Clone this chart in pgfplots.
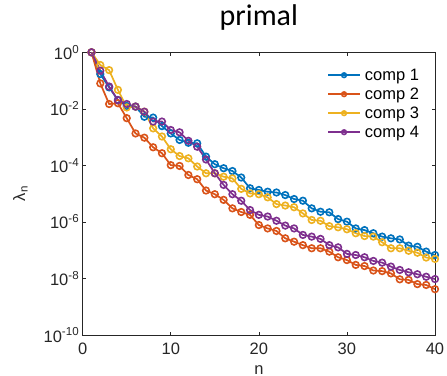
\documentclass[border=0pt]{standalone}
\usepackage{fontspec}
\setmainfont{Liberation Sans}
\newfontfamily\titlefont{Carlito}
\usepackage{pgfplots}
\pgfplotsset{compat=1.18}
\definecolor{c1}{rgb}{0,0.447,0.741}
\definecolor{c2}{rgb}{0.85,0.325,0.098}
\definecolor{c3}{rgb}{0.929,0.694,0.125}
\definecolor{c4}{rgb}{0.494,0.184,0.556}
\definecolor{axgray}{rgb}{0.15,0.15,0.15}
\begin{document}
\begin{tikzpicture}
\begin{axis}[
  name=ax,
  scale only axis,
  width=352.3bp, height=282.7bp,
  xmin=0, xmax=40, ymin=1e-10, ymax=1,
  ymode=log,
  xtick={0,10,20,30,40},
  ytick={1e-10,1e-8,1e-6,1e-4,1e-2,1},
  yticklabels={10\textsuperscript{-10},10\textsuperscript{-8},10\textsuperscript{-6},10\textsuperscript{-4},10\textsuperscript{-2},10\textsuperscript{0}},
  minor ytick={}, minor xtick={},
  tick align=inside,
  major tick length=3.5bp,
  axis line style={axgray, line width=0.6bp},
  every tick/.style={axgray, line width=0.6bp},
  tick label style={font=\fontsize{16.5bp}{19bp}\selectfont, text=axgray},
  /pgf/number format/assume math mode=true,
  xticklabel style={yshift=-4bp},
  xlabel={n},
  xlabel style={font=\fontsize{16.5bp}{19bp}\selectfont, text=axgray, at={(axis description cs:0.5,0)}, anchor=base, yshift=-39bp},
  ylabel={λ\textsubscript{n}},
  every axis y label/.style={font=\fontsize{16.5bp}{19bp}\selectfont, text=axgray, at={(axis description cs:-0.177,0.5)}, anchor=center, rotate=90},
  title={\titlefont primal},
  title style={font=\fontsize{30bp}{34bp}\selectfont, at={(axis description cs:0.5,1)}, anchor=base, yshift=21bp},
  legend cell align=left,
  legend style={draw=none, fill=none, at={(axis description cs:0,1)}, anchor=north west, xshift=244.3bp, yshift=-15.7bp, inner sep=0pt, row sep=5bp, column sep=4bp,
    nodes={inner sep=0pt, text height=12bp, text depth=2bp, font=\fontsize{16.5bp}{19bp}\selectfont, text=black}},
  legend image code/.code={\draw[mark repeat=2,mark phase=2,#1,mark size=2.3bp] plot coordinates {(0bp,0bp)(16bp,0bp)(32bp,0bp)};},
  every axis plot/.append style={line width=1.7bp, mark=o, mark size=3.3bp, mark options={line width=1.6bp}},
]
\addplot[c1] coordinates {
(1,1)(2,1.70e-1)(3,5.75e-2)(4,2.04e-2)(5,1.26e-2)(6,1.20e-2)(7,5.25e-3)(8,4.90e-3)(9,2.45e-3)(10,1.35e-3)
(11,7.94e-4)(12,6.31e-4)(13,6.03e-4)(14,2.04e-4)(15,1.10e-4)(16,7.94e-5)(17,6.31e-5)(18,3.72e-5)(19,1.55e-5)(20,1.35e-5)
(21,1.17e-5)(22,1.10e-5)(23,8.91e-6)(24,6.46e-6)(25,5.62e-6)(26,3.02e-6)(27,2.29e-6)(28,2.19e-6)(29,1.26e-6)(30,1.02e-6)
(31,5.89e-7)(32,5.13e-7)(33,3.98e-7)(34,3.02e-7)(35,2.63e-7)(36,2.40e-7)(37,1.45e-7)(38,1.32e-7)(39,8.91e-8)(40,6.76e-8)};
\addlegendentry{comp 1}
\addplot[c2] coordinates {
(1,1)(2,7.94e-2)(3,1.48e-2)(4,1.58e-2)(5,4.68e-3)(6,1.35e-3)(7,9.55e-4)(8,4.37e-4)(9,2.69e-4)(10,1.02e-4)
(11,9.55e-5)(12,4.57e-5)(13,3.24e-5)(14,1.29e-5)(15,9.55e-6)(16,6.03e-6)(17,3.02e-6)(18,2.24e-6)(19,1.78e-6)(20,7.76e-7)
(21,5.89e-7)(22,4.79e-7)(23,2.63e-7)(24,2.00e-7)(25,1.51e-7)(26,1.17e-7)(27,1.17e-7)(28,8.91e-8)(29,5.62e-8)(30,4.47e-8)
(31,3.02e-8)(32,2.75e-8)(33,1.91e-8)(34,1.82e-8)(35,1.51e-8)(36,9.33e-9)(37,8.91e-9)(38,6.31e-9)(39,5.89e-9)(40,4.17e-9)};
\addlegendentry{comp 2}
\addplot[c3] coordinates {
(1,1)(2,3.55e-1)(3,2.34e-1)(4,4.68e-2)(5,1.12e-2)(6,1.20e-2)(7,7.94e-3)(8,2.04e-3)(9,1.05e-3)(10,3.72e-4)
(11,2.14e-4)(12,1.78e-4)(13,9.12e-5)(14,5.25e-5)(15,5.25e-5)(16,3.98e-5)(17,3.47e-5)(18,1.48e-5)(19,1.02e-5)(20,9.55e-6)
(21,7.41e-6)(22,4.27e-6)(23,3.80e-6)(24,3.31e-6)(25,2.00e-6)(26,1.17e-6)(27,1.10e-6)(28,7.08e-7)(29,6.46e-7)(30,5.50e-7)
(31,3.98e-7)(32,3.16e-7)(33,3.02e-7)(34,1.91e-7)(35,1.17e-7)(36,1.17e-7)(37,9.55e-8)(38,8.13e-8)(39,5.50e-8)(40,4.90e-8)};
\addlegendentry{comp 3}
\addplot[c4] coordinates {
(1,1)(2,2.24e-1)(3,6.17e-2)(4,2.04e-2)(5,1.48e-2)(6,1.20e-2)(7,7.94e-3)(8,3.55e-3)(9,3.55e-3)(10,1.78e-3)
(11,1.48e-3)(12,7.41e-4)(13,4.57e-4)(14,1.62e-4)(15,5.25e-5)(16,2.04e-5)(17,9.55e-6)(18,5.62e-6)(19,2.63e-6)(20,1.78e-6)
(21,1.55e-6)(22,1.10e-6)(23,7.41e-7)(24,5.89e-7)(25,3.47e-7)(26,3.02e-7)(27,2.51e-7)(28,1.51e-7)(29,1.26e-7)(30,7.41e-8)
(31,6.76e-8)(32,5.62e-8)(33,4.17e-8)(34,3.63e-8)(35,2.63e-8)(36,2.00e-8)(37,1.66e-8)(38,1.41e-8)(39,1.15e-8)(40,9.55e-9)};
\addlegendentry{comp 4}
\end{axis}
\pgfresetboundingbox
\path[use as bounding box] ([xshift=-82.7bp,yshift=-41bp]ax.south west) rectangle ([xshift=364.3bp,yshift=335bp]ax.south west);
\end{tikzpicture}
\end{document}
